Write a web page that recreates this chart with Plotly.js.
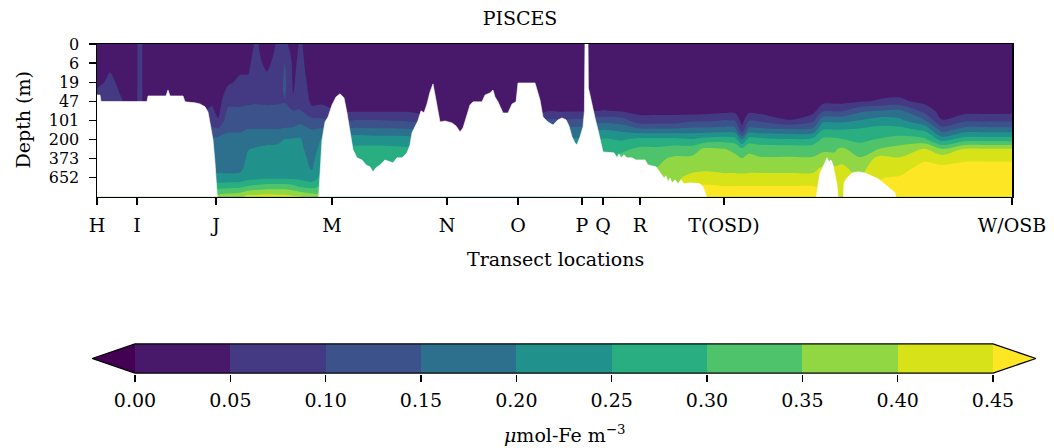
<!DOCTYPE html>
<html>
<head>
<meta charset="utf-8">
<script src="https://cdn.plot.ly/plotly-3.0.1.min.js"></script>
<style>
  html, body { margin: 0; padding: 0; background: #ffffff; }
  #chart { width: 1054px; height: 448px; }
</style>
</head>
<body>
<div id="chart"></div>
<script>
// Section stations (distance along the transect, km) and their names
const stationNames = ['H', 'I', 'J', 'M', 'N', 'O', 'P', 'Q', 'R', 'T(OSD)', 'W/OSB'];
const stationKm = [0, 200, 595, 1175, 1750, 2105, 2425, 2530, 2715, 3135, 4575];

// Model levels on the vertical axis and the depths they stand for
const levelIdx = [0, 0.5, 1, 1.5, 2, 2.5, 3, 3.5, 4, 4.5, 5, 5.5, 6, 6.5, 7, 7.5, 8];
const depthTickIdx = [0, 1, 2, 3, 4, 5, 6, 7];
const depthLabels = ['0', '6', '19', '47', '101', '200', '373', '652'];

// Positions of the dissolved-iron profiles along the section (km)
const sectionKm = [
  0, 65, 125, 170, 215, 255, 430, 525, 575, 605,
  655, 715, 755, 795, 850, 905, 940, 980, 1015, 1075,
  1125, 1215, 1290, 1390, 1490, 1580, 1660, 1740, 1815, 1965,
  2115, 2190, 2240, 2330, 2395, 2440, 2470, 2540, 2625, 2715,
  2805, 2890, 2975, 3040, 3135, 3190, 3225, 3260, 3315, 3465,
  3580, 3630, 3690, 3725, 3815, 3915, 4015, 4140, 4225, 4340,
  4460, 4575
];

// Dissolved iron (umol-Fe m-3), one profile per section position, top to bottom on levelIdx
const feProfiles = [
  [.03,.03,.032,.035,.04,.056,.066,.075,.13,.148,.162,.172,.18,.19,.212,.29,.38],
  [.03,.035,.042,.051,.058,.065,.068,.075,.13,.148,.162,.172,.18,.19,.212,.29,.38],
  [.03,.03,.032,.035,.04,.045,.052,.07,.13,.148,.162,.172,.18,.19,.212,.29,.38],
  [.03,.03,.03,.03,.03,.032,.035,.07,.13,.148,.162,.172,.18,.19,.212,.29,.38],
  [.058,.058,.058,.058,.058,.058,.058,.075,.13,.148,.162,.172,.18,.19,.212,.29,.38],
  [.03,.03,.03,.03,.03,.032,.035,.07,.13,.148,.162,.172,.18,.19,.212,.29,.38],
  [.03,.03,.03,.03,.03,.03,.032,.06,.13,.148,.162,.172,.18,.19,.212,.29,.38],
  [.03,.03,.03,.03,.03,.03,.03,.045,.11,.148,.162,.172,.18,.19,.212,.29,.38],
  [.03,.03,.03,.03,.03,.03,.04,.06,.08,.11,.16,.17,.178,.188,.21,.29,.38],
  [.03,.03,.03,.03,.03,.03,.03,.035,.055,.11,.165,.172,.18,.19,.21,.285,.37],
  [.03,.03,.035,.04,.045,.06,.085,.11,.13,.146,.16,.17,.178,.188,.21,.29,.38],
  [.03,.035,.04,.048,.056,.07,.088,.108,.128,.146,.162,.172,.18,.19,.212,.295,.39],
  [.03,.04,.045,.048,.06,.075,.092,.112,.13,.152,.175,.198,.208,.215,.23,.31,.42],
  [.056,.058,.06,.065,.07,.08,.095,.112,.13,.152,.18,.205,.212,.218,.235,.32,.42],
  [.03,.035,.042,.051,.06,.075,.092,.112,.13,.152,.185,.21,.218,.225,.24,.33,.425],
  [.056,.06,.065,.07,.075,.085,.095,.11,.13,.152,.19,.21,.218,.225,.24,.33,.42],
  [.06,.08,.102,.108,.11,.106,.098,.11,.13,.156,.202,.212,.22,.225,.24,.33,.42],
  [.03,.035,.04,.043,.045,.048,.06,.102,.125,.16,.205,.212,.22,.225,.238,.32,.41],
  [.055,.058,.06,.062,.065,.07,.08,.105,.13,.18,.205,.212,.22,.225,.235,.302,.405],
  [.03,.03,.032,.035,.038,.04,.042,.06,.115,.152,.165,.175,.185,.195,.22,.29,.38],
  [.03,.03,.032,.035,.038,.04,.042,.065,.11,.16,.205,.22,.24,.255,.27,.31,.36],
  [.03,.03,.03,.03,.03,.03,.035,.045,.09,.16,.22,.252,.27,.28,.285,.29,.295],
  [.03,.03,.03,.03,.03,.03,.035,.045,.102,.165,.23,.26,.275,.28,.282,.285,.29],
  [.03,.03,.03,.03,.03,.03,.035,.045,.102,.16,.225,.265,.28,.285,.285,.285,.29],
  [.03,.03,.03,.03,.03,.03,.035,.045,.098,.16,.225,.26,.275,.28,.28,.28,.28],
  [.03,.03,.03,.03,.03,.03,.033,.042,.09,.155,.22,.255,.27,.275,.275,.275,.275],
  [.03,.03,.03,.03,.03,.03,.03,.035,.06,.13,.198,.24,.26,.27,.27,.27,.27],
  [.03,.03,.03,.03,.03,.03,.03,.03,.035,.07,.148,.195,.23,.24,.245,.255,.26],
  [.03,.03,.03,.03,.03,.03,.03,.03,.03,.04,.07,.12,.17,.205,.22,.24,.252],
  [.03,.03,.03,.03,.03,.03,.03,.03,.03,.03,.045,.08,.12,.16,.19,.21,.23],
  [.03,.03,.03,.03,.03,.03,.03,.03,.03,.03,.045,.08,.12,.16,.19,.21,.23],
  [.03,.03,.03,.03,.03,.03,.03,.03,.03,.03,.045,.08,.12,.16,.19,.21,.23],
  [.03,.03,.03,.03,.03,.03,.03,.045,.105,.16,.205,.23,.255,.27,.28,.29,.295],
  [.03,.03,.03,.03,.03,.03,.03,.045,.105,.16,.205,.23,.255,.27,.28,.29,.295],
  [.03,.03,.03,.03,.03,.03,.03,.045,.11,.17,.205,.23,.26,.27,.28,.29,.295],
  [.03,.03,.03,.03,.03,.03,.03,.045,.11,.17,.205,.23,.26,.27,.28,.29,.295],
  [.03,.03,.03,.03,.03,.03,.03,.048,.12,.19,.24,.28,.295,.31,.32,.33,.34],
  [.03,.03,.03,.03,.03,.03,.03,.052,.13,.202,.255,.285,.295,.305,.315,.325,.335],
  [.028,.028,.028,.028,.028,.028,.028,.045,.12,.19,.245,.29,.315,.33,.34,.345,.355],
  [.028,.028,.028,.028,.028,.028,.028,.035,.07,.165,.265,.31,.335,.345,.36,.37,.38],
  [.028,.028,.028,.028,.028,.028,.028,.035,.07,.165,.265,.31,.34,.352,.37,.39,.41],
  [.028,.028,.028,.028,.028,.028,.028,.035,.07,.165,.265,.32,.36,.375,.39,.398,.42],
  [.022,.022,.022,.022,.022,.022,.022,.025,.09,.17,.255,.325,.36,.385,.415,.455,.48],
  [.022,.022,.022,.022,.022,.022,.022,.028,.09,.17,.27,.36,.375,.39,.42,.46,.49],
  [.022,.022,.022,.022,.022,.022,.022,.035,.102,.175,.28,.352,.37,.385,.415,.455,.48],
  [.022,.022,.022,.022,.022,.022,.022,.035,.098,.17,.27,.34,.36,.385,.415,.455,.48],
  [.02,.02,.02,.02,.02,.02,.02,.022,.03,.07,.198,.31,.352,.38,.415,.455,.48],
  [.022,.022,.022,.022,.022,.022,.022,.035,.098,.17,.27,.34,.36,.385,.415,.455,.48],
  [.022,.022,.022,.022,.022,.022,.022,.03,.09,.165,.265,.33,.355,.385,.415,.455,.48],
  [.022,.022,.022,.022,.022,.022,.022,.025,.052,.16,.255,.33,.355,.385,.415,.455,.48],
  [.022,.022,.022,.022,.022,.022,.022,.03,.09,.165,.265,.33,.355,.385,.415,.455,.48],
  [.03,.03,.03,.03,.03,.03,.035,.095,.185,.252,.31,.345,.36,.41,.44,.44,.445],
  [.03,.03,.03,.03,.03,.03,.035,.095,.185,.252,.31,.345,.36,.41,.44,.44,.445],
  [.03,.03,.03,.03,.03,.03,.035,.095,.185,.252,.302,.36,.385,.41,.42,.43,.44],
  [.03,.03,.03,.03,.03,.03,.045,.14,.202,.26,.29,.32,.355,.38,.395,.41,.42],
  [.03,.03,.03,.03,.03,.035,.055,.152,.225,.27,.305,.352,.42,.44,.448,.455,.47],
  [.03,.03,.03,.03,.03,.035,.06,.16,.21,.27,.32,.37,.405,.43,.455,.47,.48],
  [.03,.03,.03,.03,.03,.03,.035,.08,.152,.24,.31,.405,.44,.47,.49,.5,.5],
  [.02,.02,.02,.02,.02,.02,.02,.03,.052,.13,.23,.352,.43,.46,.48,.49,.5],
  [.022,.022,.022,.022,.022,.022,.022,.03,.09,.175,.275,.405,.44,.47,.49,.5,.5],
  [.022,.022,.022,.022,.022,.022,.022,.03,.09,.175,.275,.405,.44,.47,.49,.5,.5],
  [.022,.022,.022,.022,.022,.022,.022,.032,.09,.175,.275,.405,.44,.47,.49,.5,.5]
];

// Sea floor along the section (level index; values past 8 lie below the plotted depth)
const seafloorKm = [
  0, 15, 20, 250, 255, 345, 355, 365, 430, 440, 490, 515, 540, 555, 565, 580, 590, 600, 605,
  1105, 1115, 1125, 1140, 1155, 1175, 1195, 1215, 1235, 1250, 1265, 1280, 1300, 1325, 1345, 1365,
  1380, 1395, 1415, 1440, 1465, 1480, 1500, 1525, 1550, 1565, 1575, 1590, 1605, 1620, 1635, 1650,
  1665, 1680, 1690, 1700, 1715, 1740, 1775, 1795, 1815, 1830, 1845, 1865, 1880, 1925, 1940, 1965,
  1980, 1990, 2005, 2030, 2055, 2075, 2095, 2105, 2190, 2215, 2230, 2255, 2280, 2305, 2325, 2345,
  2360, 2375, 2390, 2400, 2415, 2430, 2437, 2440, 2455, 2457, 2465, 2475, 2490, 2505, 2520, 2530,
  2585, 2600, 2610, 2620, 2635, 2650, 2675, 2695, 2740, 2755, 2795, 2815, 2835, 2845, 2855, 2865,
  2875, 2890, 2905, 2920, 2935, 2965, 3015, 3030, 3045, 3055,
  3590, 3605, 3615, 3630, 3640, 3650, 3660, 3670, 3680, 3690, 3700, 3710,
  3730, 3735, 3750, 3775, 3805, 3840, 3905, 3955, 3990, 4005, 4575
];
const seafloorIdx = [
  2.67, 2.67, 3.01, 3.01, 2.72, 2.72, 2.41, 2.72, 2.72, 3.03, 3.08, 3.14, 3.29, 3.56, 4.13, 5.02, 6.22, 7.63, 8.6,
  8.6, 6.59, 5.02, 4.08, 3.82, 3.19, 2.77, 2.61, 2.82, 3.61, 4.50, 5.54, 5.96, 6.07, 6.33, 6.43,
  6.69, 6.48, 6.33, 6.07, 6.17, 6.22, 5.96, 5.96, 5.70, 5.28, 4.65, 4.34, 4.0, 3.5, 3.6, 3.14,
  2.51, 2.09, 2.67, 3.19, 4.08, 4.03, 4.13, 4.29, 4.6, 4.4, 3.82, 3.19, 3.03, 3.03, 2.67, 2.56,
  2.41, 2.77, 3.03, 3.61, 3.61, 3.14, 3.03, 2.04, 2.04, 2.93, 3.82, 4.08, 4.24, 3.97, 3.87, 3.97,
  4.29, 4.86, 5.18, 5.28, 4.86, 4.34, 3.5, -0.3, -0.3, 2.3, 2.67, 3.19, 3.87, 4.5, 5.28, 5.65,
  5.70, 5.96, 5.75, 5.96, 5.80, 5.96, 5.96, 6.07, 6.07, 6.33, 6.43, 6.69, 7.01, 6.90, 7.22, 7.01,
  7.27, 7.11, 7.32, 7.11, 7.32, 7.27, 7.32, 7.48, 7.9, 8.6,
  8.6, 7.37, 6.75, 6.43, 6.17, 5.96, 6.17, 6.07, 6.33, 6.85, 7.37, 8.6,
  8.6, 7.27, 7.01, 6.75, 6.69, 6.75, 7.06, 7.48, 7.79, 8.6, 8.6
];

// Contour levels and the discrete viridis colours: under-range, nine bands, over-range
const feLevels = [0, 0.05, 0.10, 0.15, 0.20, 0.25, 0.30, 0.35, 0.40, 0.45];
const bandColors = ['#440154', '#48186a', '#443983', '#3b528b', '#2d708e', '#21918c',
                    '#28ae80', '#4ec36b', '#90d743', '#d8e219', '#fde725'];

const FONT = 'DejaVu Serif, serif';
const W = 1054, H = 448;

const step = feLevels[1] - feLevels[0];
const lo = feLevels[0], hi = feLevels[feLevels.length - 1];
const colorscale = bandColors.map((c, i) => [i / (bandColors.length - 1), c]);

// level-by-position grid for the contour trace
const feGrid = levelIdx.map((_, r) => feProfiles.map(p => p[r]));

const sectionTrace = {
  type: 'contour',
  x: sectionKm, y: levelIdx, z: feGrid,
  autocontour: false,
  contours: { start: lo, end: hi, size: step, coloring: 'fill', showlines: false },
  colorscale: colorscale,
  line: { width: 0, smoothing: 0.85 },
  showscale: false,
  hoverinfo: 'skip',
  xaxis: 'x', yaxis: 'y'
};

// sea floor, filled white down past the bottom of the section
const floorTrace = {
  type: 'scatter', mode: 'lines',
  x: seafloorKm.concat([seafloorKm[seafloorKm.length - 1], seafloorKm[0]]),
  y: seafloorIdx.concat([9, 9]),
  fill: 'toself', fillcolor: '#ffffff',
  line: { color: '#ffffff', width: 0.6 },
  hoverinfo: 'skip', showlegend: false,
  xaxis: 'x', yaxis: 'y'
};

// horizontal colour bar with extension triangles (extension = 5% of the bar length)
const ext = 0.05 * (hi - lo);
const bandMid = feLevels.slice(1).map((v, i) => (v + feLevels[i]) / 2);
const barTrace = {
  type: 'heatmap',
  x: feLevels, y: [0, 1], z: [bandMid],
  colorscale: colorscale, zmin: lo - step / 2, zmax: hi + step / 2,
  showscale: false, hoverinfo: 'skip',
  xaxis: 'x2', yaxis: 'y2'
};
const underTrace = {
  type: 'scatter', mode: 'lines',
  x: [lo, lo - ext, lo, lo], y: [0, 0.5, 1, 0],
  fill: 'toself', fillcolor: bandColors[0], line: { width: 0 },
  hoverinfo: 'skip', showlegend: false, xaxis: 'x2', yaxis: 'y2'
};
const overTrace = {
  type: 'scatter', mode: 'lines',
  x: [hi, hi + ext, hi, hi], y: [0, 0.5, 1, 0],
  fill: 'toself', fillcolor: bandColors[bandColors.length - 1], line: { width: 0 },
  hoverinfo: 'skip', showlegend: false, xaxis: 'x2', yaxis: 'y2'
};
const outlineTrace = {
  type: 'scatter', mode: 'lines',
  x: [lo, hi, hi + ext, hi, lo, lo - ext, lo],
  y: [0, 0, 0.5, 1, 1, 0.5, 0],
  line: { color: '#000000', width: 1.3 },
  hoverinfo: 'skip', showlegend: false, xaxis: 'x2', yaxis: 'y2'
};

// pixel geometry helpers (margins are zero, so paper == page)
const px = v => v / W;
const py = v => 1 - v / H;

// colour bar axis: bar spans pixels 135..993, frame 343..374
const barLeft = 135, barRight = 993;
const pxPerUnit = (barRight - barLeft) / (hi - lo);
const cbRange = [lo - 0.025, hi + 0.025];
const cbDomain = [px(barLeft - 0.025 * pxPerUnit), px(barRight + 0.025 * pxPerUnit)];

const layout = {
  width: W, height: H,
  margin: { l: 0, r: 0, t: 0, b: 0, pad: 0 },
  paper_bgcolor: '#ffffff', plot_bgcolor: '#ffffff',
  showlegend: false,
  font: { family: FONT, size: 19, color: '#000000' },
  title: {
    text: 'PISCES',
    font: { family: FONT, size: 19, color: '#000000' },
    xref: 'paper', x: px(520), xanchor: 'center',
    yref: 'container', y: py(18), yanchor: 'middle'
  },
  xaxis: {
    domain: [px(97), px(1012)], range: [0, 4575],
    tickmode: 'array', tickvals: stationKm, ticktext: stationNames,
    ticks: 'outside', ticklen: 7, tickwidth: 1.4, tickcolor: '#000000',
    ticklabelstandoff: 4,
    showline: true, linewidth: 1.5, linecolor: '#000000', mirror: true,
    showgrid: false, zeroline: false,
    tickfont: { family: FONT, size: 19, color: '#000000' },
    anchor: 'y'
  },
  yaxis: {
    domain: [py(196.8), py(44)], range: [8, 0],
    tickmode: 'array', tickvals: depthTickIdx, ticktext: depthLabels,
    ticks: 'outside', ticklen: 7, tickwidth: 1.4, tickcolor: '#000000',
    ticklabelstandoff: 6,
    showline: true, linewidth: 1.5, linecolor: '#000000', mirror: true,
    showgrid: false, zeroline: false,
    tickfont: { family: FONT, size: 16, color: '#000000' },
    anchor: 'x'
  },
  xaxis2: {
    domain: cbDomain, range: cbRange,
    tickmode: 'array', tickvals: feLevels, tickformat: '.2f',
    ticks: 'outside', ticklen: 7, tickwidth: 1.4, tickcolor: '#000000',
    ticklabelstandoff: 2,
    showline: false, showgrid: false, zeroline: false,
    tickfont: { family: FONT, size: 19, color: '#000000' },
    anchor: 'y2'
  },
  yaxis2: {
    domain: [py(373.9), py(343.1)], range: [-0.03, 1.03],
    visible: false, fixedrange: true, anchor: 'x2'
  },
  annotations: [
    { text: 'Transect locations', xref: 'paper', yref: 'paper',
      x: px(555), y: py(259), xanchor: 'center', yanchor: 'middle',
      showarrow: false, font: { family: FONT, size: 19, color: '#000000' } },
    { text: 'Depth (m)', xref: 'paper', yref: 'paper',
      x: px(22), y: py(120.5), xanchor: 'center', yanchor: 'middle', textangle: -90,
      showarrow: false, font: { family: FONT, size: 19, color: '#000000' } },
    { text: '<i>μ</i>mol-Fe m<sup>−3</sup>', xref: 'paper', yref: 'paper',
      x: px(564), y: py(434), xanchor: 'center', yanchor: 'middle',
      showarrow: false, font: { family: FONT, size: 19, color: '#000000' } }
  ]
};

Plotly.newPlot('chart',
  [sectionTrace, floorTrace, barTrace, underTrace, overTrace, outlineTrace],
  layout,
  { staticPlot: true, displayModeBar: false });
</script>
</body>
</html>
